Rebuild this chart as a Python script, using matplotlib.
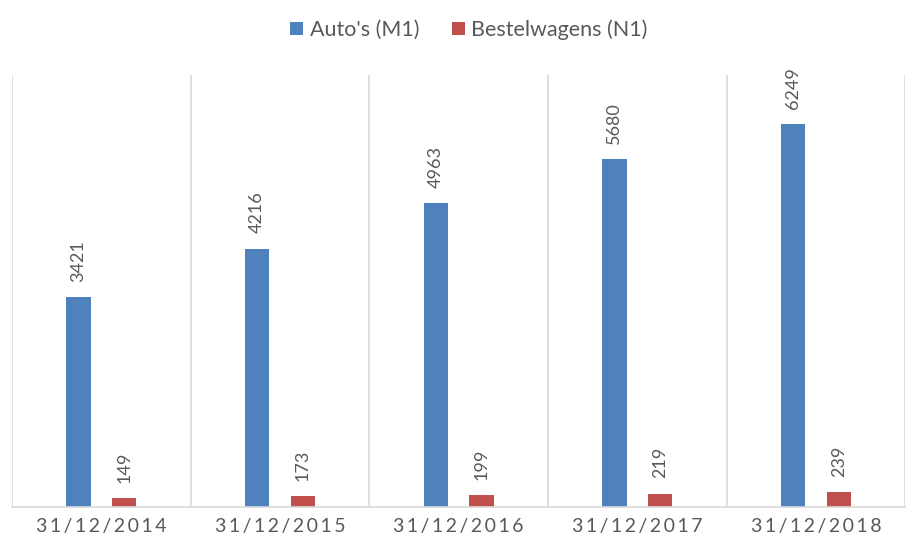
import numpy as np
import matplotlib.pyplot as plt

plt.rcParams['font.family'] = ['Lato', 'DejaVu Sans']

dates = ['31/12/2014', '31/12/2015', '31/12/2016', '31/12/2017', '31/12/2018']
autos = [3421, 4216, 4963, 5680, 6249]
bestel = [149, 173, 199, 219, 239]

BLUE = '#4F81BD'
RED = '#C0504D'
GRID = '#D9D9D9'
TXT = '#595959'

fig = plt.figure(figsize=(9.07, 5.45), dpi=100)
ax = fig.add_axes([0.0132, 0.0697, 0.985, 0.7927])

x = np.arange(len(dates))
w = 0.135
off = 0.128
b1 = ax.bar(x - off, autos, w, color=BLUE, label="Auto's (M1)")
b2 = ax.bar(x + off, bestel, w, color=RED, label='Bestelwagens (N1)')

for bars, vals in ((b1, autos), (b2, bestel)):
    for r, v in zip(bars, vals):
        ax.annotate(str(v), (r.get_x() + r.get_width() / 2, v), xytext=(0, 11),
                    textcoords='offset points', rotation=90, ha='center', va='bottom',
                    fontsize=13, color=TXT)

ax.set_xlim(-0.5, len(dates) - 0.5)
ax.set_ylim(0, 7050)
for b in np.arange(-0.5, len(dates), 1.0):
    ax.axvline(b, color=GRID, lw=1.2, zorder=0)

for s in ('top', 'right', 'left'):
    ax.spines[s].set_visible(False)
ax.spines['bottom'].set_color(GRID)
ax.spines['bottom'].set_linewidth(1.2)
ax.set_yticks([])
ax.set_xticks(x)
ax.set_xticklabels(['\u2009'.join(d) for d in dates], fontsize=14, color=TXT)
ax.tick_params(axis='x', length=0, pad=8)

fig.legend(loc='upper center', bbox_to_anchor=(0.517, 1.0), ncol=2, frameon=False,
           fontsize=15.5, handlelength=0.6, handleheight=0.6, handletextpad=0.3,
           columnspacing=1.5, labelcolor=TXT)

fig.savefig('out.png', dpi=100)
